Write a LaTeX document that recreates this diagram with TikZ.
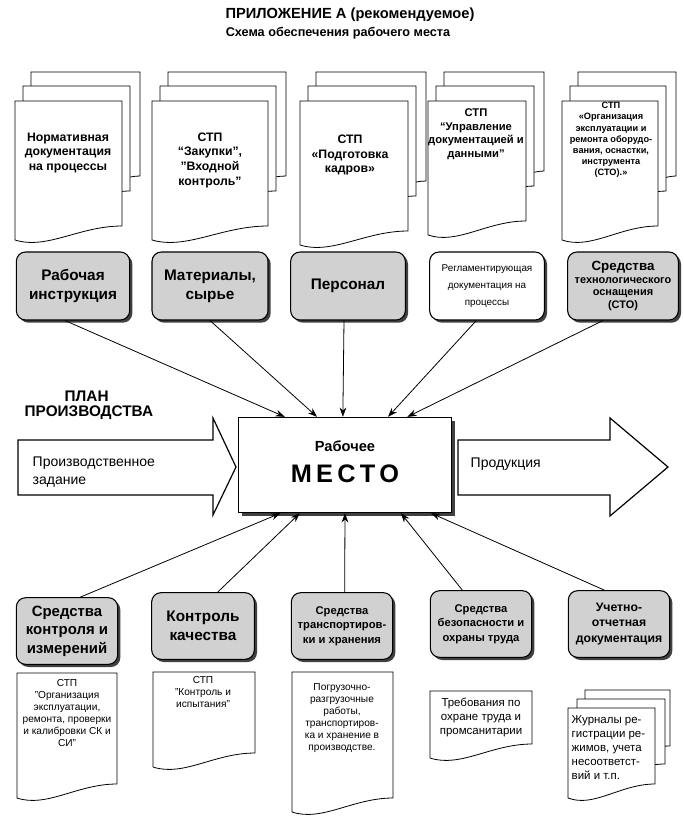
\documentclass[tikz,border=0pt]{standalone}
\usepackage{fontspec}
\setmainfont{Liberation Sans}
\usetikzlibrary{calc,arrows.meta,shadows}
\tikzset{
  gbox/.style={draw,line width=0.8pt,rounded corners=7pt,fill=black!18,align=center,font=\bfseries,
     drop shadow={shadow xshift=2pt,shadow yshift=-2pt,fill=black!75,opacity=1}},
  wbox/.style={gbox,fill=white},
  dtext/.style={align=center,font=\bfseries\fontsize{9.2}{11}\selectfont},
  stext/.style={align=center,font=\fontsize{7.6}{9}\selectfont},
  conn/.style={line width=0.6pt,-{Stealth[length=7pt,width=5pt]}},
}
\newcommand\docsh[4]{\draw[fill=white,line width=0.6pt] (#1,#2) -- (#3,#2) -- (#3,{#4-14}) .. controls ({#1+0.6*(#3-#1)},{#4-14}) and ({#1+0.3*(#3-#1)},{#4+10}) .. (#1,#4) -- cycle;}
\newcommand\docstack[4]{\docsh{#1+16}{#2-29}{#3+18}{#4-50}\docsh{#1+8}{#2-15}{#3+8}{#4-35}\docsh{#1}{#2}{#3}{#4}}
\begin{document}
\begin{tikzpicture}[x=0.75pt,y=-0.75pt]
\useasboundingbox (0,0) rectangle (684,833);
% titles
\node[font=\bfseries\fontsize{11}{13}\selectfont] (t1) at (350,15) {ПРИЛОЖЕНИЕ А (рекомендуемое)};
\node[font=\bfseries\fontsize{9.5}{11}\selectfont] (t2) at (338,33) {Схема обеспечения рабочего места};
% top documents
\docstack{15}{101}{122}{240}
\docstack{152}{101}{268}{240}
\docstack{300}{101}{408}{245}
\docstack{428}{101}{526}{235}
\docstack{562}{101}{658}{240}
\node[dtext] (d1) at (68,153) {Нормативная\\документация\\на процессы};
\node[dtext] (d2) at (210,160) {СТП\\“Закупки”,\\”Входной\\контроль”};
\node[dtext] (d3) at (350,155) {СТП\\«Подготовка\\кадров»};
\node[dtext,font=\bfseries\fontsize{8.4}{10.2}\selectfont] (d4) at (476,134) {СТП\\“Управление\\документацией и\\данными”};
\node[dtext,font=\bfseries\fontsize{6.9}{8.4}\selectfont] (d5) at (611,140) {СТП\\«Организация\\эксплуатации и\\ремонта оборудо-\\вания, оснастки,\\инструмента\\(СТО).»};
% top boxes
\node[gbox,minimum width=85pt,minimum height=51pt,font=\bfseries\fontsize{11.5}{14}\selectfont] (a1) at (73,286) {Рабочая\\инструкция};
\node[gbox,minimum width=87pt,minimum height=51pt,font=\bfseries\fontsize{11.5}{14}\selectfont] (a2) at (210,286) {Материалы,\\сырье};
\node[gbox,minimum width=86pt,minimum height=51pt,font=\bfseries\fontsize{11.5}{14}\selectfont] (a3) at (348,286) {Персонал};
\node[wbox,minimum width=86pt,minimum height=51pt,font=\fontsize{7.4}{12.5}\selectfont] (a4) at (487,286) {Регламентирующая\\документация на\\процессы};
\node[gbox,minimum width=83pt,minimum height=51pt,font=\bfseries\fontsize{8.2}{9.6}\selectfont] (a5) at (623,286) {\fontsize{10}{11}\selectfont Средства\\технологического\\оснащения\\(СТО)};
% center
\node[draw,line width=1.2pt,fill=white,minimum width=160pt,minimum height=71pt,
  drop shadow={shadow xshift=2.5pt,shadow yshift=-2.5pt,fill=black!75,opacity=1}] (m) at (345,465) {};
\node[font=\bfseries\fontsize{11}{13}\selectfont] (m1) at (345,446) {Рабочее};
\node[font=\bfseries\fontsize{19}{22}\selectfont] (m2) at (345,474) {М\,Е\,С\,Т\,О};
% big arrows
\draw[line width=0.9pt,fill=white] (18,440)--(213,440)--(213,418)--(236,467)--(213,515)--(213,495)--(18,495)--cycle;
\draw[line width=0.9pt,fill=white] (458,440)--(610,440)--(610,418)--(668,467)--(610,516)--(610,495)--(458,495)--cycle;
\node[anchor=west,align=left,font=\fontsize{10.5}{14}\selectfont] (pz) at (28,472) {Производственное\\задание};
\node[anchor=west,font=\fontsize{10.5}{12}\selectfont] (pr) at (466,464) {Продукция};
\node[anchor=west,font=\bfseries\fontsize{11.5}{13}\selectfont] (pl1) at (60,396) {ПЛАН};
\node[anchor=west,font=\bfseries\fontsize{11.5}{13}\selectfont] (pl2) at (20,413) {ПРОИЗВОДСТВА};
% bottom boxes
\node[gbox,minimum width=76pt,minimum height=50pt,font=\bfseries\fontsize{11.2}{14}\selectfont] (b1) at (67,631) {Средства\\контроля и\\измерений};
\node[gbox,minimum width=77pt,minimum height=50pt,font=\bfseries\fontsize{11.5}{14}\selectfont] (b2) at (203,626) {Контроль\\качества};
\node[gbox,minimum width=76pt,minimum height=50pt,font=\bfseries\fontsize{8.4}{11}\selectfont] (b3) at (342,626) {Средства\\транспортиров-\\ки и хранения};
\node[gbox,minimum width=76pt,minimum height=50pt,font=\bfseries\fontsize{8.4}{11}\selectfont] (b4) at (481,624) {Средства\\безопасности и\\охраны труда};
\node[gbox,minimum width=76pt,minimum height=50pt,font=\bfseries\fontsize{9.2}{11.5}\selectfont] (b5) at (619,624) {Учетно-\\отчетная\\документация};
% bottom documents
\docsh{17}{673}{117}{798}
\docsh{153}{672}{255}{767}
\docsh{292}{672}{393}{812}
\docsh{430}{691}{532}{758}
\docsh{585}{690}{670}{760}\docsh{577}{699}{665}{778}\docsh{568}{708}{655}{798}
\node[stext] (e1) at (67,713) {СТП\\"Организация\\эксплуатации,\\ремонта, проверки\\и калибровки СК и\\СИ"};
\node[stext] (e2) at (203,692) {СТП\\"Контроль и\\испытания"};
\node[stext] (e3) at (342,718) {Погрузочно-\\разгрузочные\\работы,\\транспортиров-\\ка и хранение в\\производстве.};
\node[stext,font=\fontsize{8.6}{10.5}\selectfont] (e4) at (481,717) {Требования по\\охране труда и\\промсанитарии};
\node[stext,align=left,anchor=north west,font=\fontsize{8.6}{10.5}\selectfont] (e5) at (567,711) {Журналы ре-\\гистрации ре-\\жимов, учета\\несоответст-\\вий и т.п.};
% connectors
\draw[conn] ([xshift=-6pt]a1.south) -- ($(m.north west)!0.22!(m.north east)$);
\draw[conn] (a2.south) -- ($(m.north west)!0.37!(m.north east)$);
\draw[conn] ([xshift=-3pt]a3.south) -- ($(m.north west)!0.49!(m.north east)$);
\draw[conn] ([xshift=-8pt]a4.south) -- ($(m.north west)!0.70!(m.north east)$);
\draw[conn] ([xshift=-15pt]a5.south) -- ($(m.north west)!0.79!(m.north east)$);
\draw[conn] ([xshift=10pt]b1.north) -- ($(m.south west)!0.20!(m.south east)$);
\draw[conn] ([xshift=11pt]b2.north) -- ($(m.south west)!0.29!(m.south east)$);
\draw[conn] ([xshift=2pt]b3.north) -- ($(m.south west)!0.50!(m.south east)$);
\draw[conn] ([xshift=-14pt]b4.north) -- ($(m.south west)!0.76!(m.south east)$);
\draw[conn] ([xshift=-11pt]b5.north) -- ($(m.south west)!0.90!(m.south east)$);
\end{tikzpicture}
\end{document}
